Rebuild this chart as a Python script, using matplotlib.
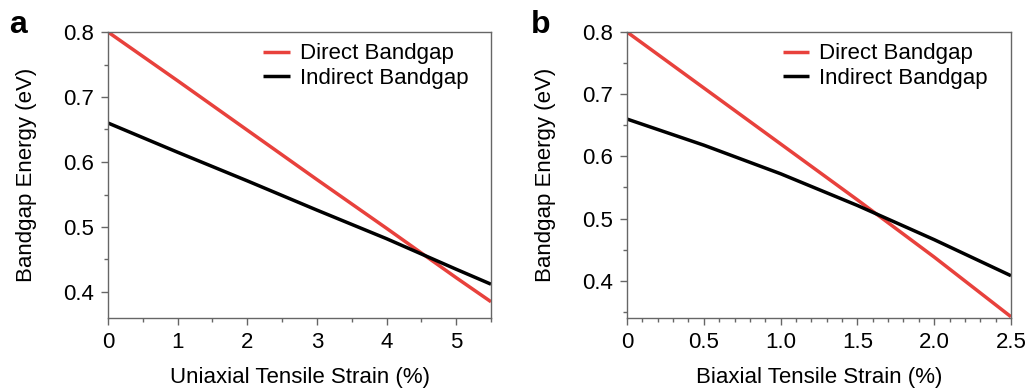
import matplotlib
matplotlib.use("Agg")
import matplotlib.pyplot as plt
from matplotlib.ticker import FixedLocator, MultipleLocator

plt.rcParams['font.family'] = ['Liberation Sans', 'DejaVu Sans']

# Panel a: uniaxial strain
uni_strain = [0, 1, 2, 3, 4, 5, 5.5]
uni_direct = [0.80, 0.725, 0.649, 0.573, 0.498, 0.422, 0.385]
uni_indirect = [0.660, 0.615, 0.571, 0.526, 0.482, 0.435, 0.412]
uni_xticks = [0, 1, 2, 3, 4, 5]
uni_xticklabels = ['0', '1', '2', '3', '4', '5']

# Panel b: biaxial strain
bi_strain = [0, 0.5, 1.0, 1.5, 2.0, 2.5]
bi_direct = [0.80, 0.710, 0.620, 0.530, 0.438, 0.342]
bi_indirect = [0.660, 0.618, 0.572, 0.521, 0.466, 0.408]
bi_xticks = [0, 0.5, 1.0, 1.5, 2.0, 2.5]
bi_xticklabels = ['0', '0.5', '1.0', '1.5', '2.0', '2.5']

yticks = [0.4, 0.5, 0.6, 0.7, 0.8]
yticklabels = ['0.4', '0.5', '0.6', '0.7', '0.8']

red = '#e8413c'
spine_col = '#666666'
FS = 16

fig = plt.figure(figsize=(10.30, 3.92), dpi=100)
ax1 = fig.add_axes([108/1030, 74/392, 383/1030, 286/392])
ax2 = fig.add_axes([627/1030, 74/392, 384/1030, 286/392])

def style(ax):
    for s in ax.spines.values():
        s.set_color(spine_col)
        s.set_linewidth(1.0)
    ax.tick_params(which='both', direction='out', colors=spine_col,
                   labelcolor='black', labelsize=FS, top=False, right=False)
    ax.tick_params(which='major', length=5, width=1.0)
    ax.tick_params(which='minor', length=2.8, width=1.0)
    ax.tick_params(axis='x', which='major', pad=5)
    ax.tick_params(axis='y', which='major', pad=5)
    ax.set_ylabel('Bandgap Energy (eV)', fontsize=FS)
    ax.yaxis.set_label_coords(-0.185, 0.5)

for ax, xs, d, i, xlabel in [(ax1, uni_strain, uni_direct, uni_indirect, 'Uniaxial Tensile Strain (%)'),
                             (ax2, bi_strain, bi_direct, bi_indirect, 'Biaxial Tensile Strain (%)')]:
    ax.plot(xs, d, color=red, lw=2.5, label='Direct Bandgap', solid_capstyle='butt')
    ax.plot(xs, i, color='black', lw=2.5, label='Indirect Bandgap', solid_capstyle='butt')
    style(ax)
    ax.set_xlabel(xlabel, fontsize=FS, va='top')
    ax.xaxis.set_label_coords(0.5, -0.17)
    ax.legend(loc='upper left', bbox_to_anchor=(0.405, 0.96), frameon=False, fontsize=FS,
              handlelength=1.2, handletextpad=0.45, labelspacing=0.15,
              borderaxespad=0, borderpad=0)

ax1.set_xlim(0, 5.5)
ax1.set_ylim(0.36, 0.8)
ax1.xaxis.set_major_locator(FixedLocator(uni_xticks))
ax1.xaxis.set_minor_locator(MultipleLocator(0.5))
ax1.set_xticklabels(uni_xticklabels)

ax2.set_xlim(0, 2.5)
ax2.set_ylim(0.34, 0.8)
ax2.xaxis.set_major_locator(FixedLocator(bi_xticks))
ax2.xaxis.set_minor_locator(MultipleLocator(0.1))
ax2.set_xticklabels(bi_xticklabels)

for ax in (ax1, ax2):
    ax.yaxis.set_major_locator(FixedLocator(yticks))
    ax.yaxis.set_minor_locator(MultipleLocator(0.05))
    ax.set_yticklabels(yticklabels)

fig.text(18/1030, 1 - 33/392, 'a', fontsize=23, fontweight='bold', ha='center', va='baseline')
fig.text(541/1030, 1 - 33/392, 'b', fontsize=23, fontweight='bold', ha='center', va='baseline')

fig.savefig('out.png', dpi=100)
